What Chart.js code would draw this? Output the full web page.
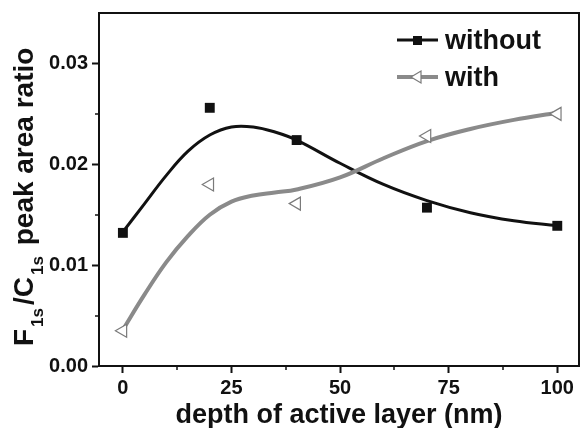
<!DOCTYPE html>
<html>
<head>
<meta charset="utf-8">
<script src="https://cdn.jsdelivr.net/npm/chart.js@4/dist/chart.umd.min.js"></script>
<style>
  body { margin: 0; background: #fff; }
  canvas { display: block; }
</style>
</head>
<body>
<canvas id="chart" width="582" height="428"></canvas>
<script>
// measured points
const depths = [0, 20, 40, 70, 100];
const withoutValues = [0.0132, 0.0256, 0.0224, 0.0157, 0.0139];
const withValues = [0.0035, 0.0180, 0.0161, 0.0228, 0.0250];

// fitted curves
const fitDepths = [0, 5, 10, 15, 20, 25, 30, 35, 40, 50, 60, 70, 80, 90, 100];
const withoutFit = [0.0133, 0.0161, 0.0189, 0.0213, 0.0229, 0.0237, 0.0237, 0.0232, 0.0224, 0.0201, 0.0180, 0.0164, 0.0152, 0.0144, 0.0139];
const withFit = [0.0036, 0.0071, 0.0103, 0.0129, 0.0150, 0.0163, 0.0169, 0.0172, 0.0175, 0.0187, 0.0206, 0.0223, 0.0235, 0.0244, 0.0251];

const xTicks = [0, 25, 50, 75, 100];
const xMinorTicks = [12.5, 37.5, 62.5, 87.5];
const yTicks = [0, 0.01, 0.02, 0.03];
const yMinorTicks = [0.005, 0.015, 0.025];

const FONT = '"Liberation Sans", Arial, sans-serif';
const BLACK = '#111111';
const GRAY = '#8a8a8a';
const TRI_GRAY = '#7a7a7a';

function toXY(xs, ys) {
    return xs.map((x, i) => ({ x: x, y: ys[i] }));
}

const decorations = {
    id: 'decorations',
    afterDraw(chart) {
        const ctx = chart.ctx;
        const area = chart.chartArea;
        const xs = chart.scales.x;
        const ys = chart.scales.y;
        ctx.save();

        // frame top/right
        ctx.strokeStyle = BLACK;
        ctx.lineWidth = 2;
        ctx.beginPath();
        ctx.moveTo(area.left, area.top);
        ctx.lineTo(area.right, area.top);
        ctx.lineTo(area.right, area.bottom);
        ctx.stroke();

        // minor ticks
        ctx.lineWidth = 1.5;
        ctx.beginPath();
        xMinorTicks.forEach(v => {
            const px = Math.round(xs.getPixelForValue(v));
            ctx.moveTo(px, area.bottom);
            ctx.lineTo(px, area.bottom + 4);
        });
        yMinorTicks.forEach(v => {
            const py = Math.round(ys.getPixelForValue(v));
            ctx.moveTo(area.left, py);
            ctx.lineTo(area.left - 4, py);
        });
        ctx.stroke();

        // x title
        ctx.fillStyle = BLACK;
        ctx.font = 'bold 27px ' + FONT;
        ctx.textAlign = 'center';
        ctx.textBaseline = 'alphabetic';
        ctx.fillText('depth of active layer (nm)', (area.left + area.right) / 2, 423);

        // y title with subscripts
        ctx.save();
        ctx.translate(33, 346);
        ctx.rotate(-Math.PI / 2);
        ctx.textAlign = 'left';
        let pos = 0;
        const parts = [
            ['F', false], ['1s', true], ['/C', false], ['1s', true], [' peak area ratio', false]
        ];
        parts.forEach(([txt, sub]) => {
            ctx.font = sub ? 'bold 17px ' + FONT : 'bold 28px ' + FONT;
            ctx.fillText(txt, pos, sub ? 10 : 0);
            pos += ctx.measureText(txt).width + (sub ? 3 : 2);
        });
        ctx.restore();

        // legend
        ctx.font = 'bold 27px ' + FONT;
        ctx.textAlign = 'left';
        ctx.strokeStyle = BLACK;
        ctx.lineWidth = 3;
        ctx.beginPath();
        ctx.moveTo(397, 40);
        ctx.lineTo(438, 40);
        ctx.stroke();
        ctx.fillStyle = BLACK;
        ctx.fillRect(413, 36, 9, 9);
        ctx.fillText('without', 445, 49);

        ctx.strokeStyle = GRAY;
        ctx.lineWidth = 4;
        ctx.beginPath();
        ctx.moveTo(397, 77);
        ctx.lineTo(438, 77);
        ctx.stroke();
        ctx.fillStyle = '#fff';
        ctx.strokeStyle = TRI_GRAY;
        ctx.lineWidth = 1.2;
        ctx.beginPath();
        ctx.moveTo(411, 77);
        ctx.lineTo(421, 71);
        ctx.lineTo(421, 83);
        ctx.closePath();
        ctx.fill();
        ctx.stroke();
        ctx.fillStyle = BLACK;
        ctx.fillText('with', 445, 86);

        ctx.restore();
    }
};

const ctx = document.getElementById('chart').getContext('2d');
new Chart(ctx, {
    type: 'scatter',
    data: {
        datasets: [
            {
                label: 'without',
                data: toXY(depths, withoutValues),
                showLine: false,
                pointStyle: 'rect',
                pointRadius: 7,
                backgroundColor: BLACK,
                borderColor: BLACK,
                borderWidth: 0,
                order: 0
            },
            {
                label: 'with',
                data: toXY(depths, withValues),
                showLine: false,
                pointStyle: 'triangle',
                pointRotation: -90,
                pointRadius: 7.5,
                backgroundColor: '#ffffff',
                borderColor: TRI_GRAY,
                borderWidth: 1.2,
                order: 0
            },
            {
                label: 'without fit',
                data: toXY(fitDepths, withoutFit),
                showLine: true,
                pointRadius: 0,
                borderColor: BLACK,
                borderWidth: 3,
                tension: 0.4,
                order: 2
            },
            {
                label: 'with fit',
                data: toXY(fitDepths, withFit),
                showLine: true,
                pointRadius: 0,
                borderColor: GRAY,
                borderWidth: 4,
                tension: 0.4,
                order: 1
            }
        ]
    },
    options: {
        responsive: false,
        animation: false,
        layout: { autoPadding: false, padding: { left: 0, right: 3, top: 13, bottom: 0 } },
        plugins: {
            legend: { display: false },
            tooltip: { enabled: false }
        },
        scales: {
            x: {
                type: 'linear',
                min: -5.5,
                max: 105,
                afterBuildTicks: scale => { scale.ticks = xTicks.map(v => ({ value: v })); },
                afterFit: scale => {
                    scale.height = 62;
                    scale.paddingLeft = 0;
                    scale.paddingRight = 0;
                },
                grid: { drawOnChartArea: false, tickLength: 7, tickWidth: 2, tickColor: BLACK },
                border: { color: BLACK, width: 2 },
                ticks: {
                    color: BLACK,
                    padding: 3,
                    maxRotation: 0,
                    font: { family: FONT, size: 20, weight: 'bold' },
                    callback: v => String(v)
                }
            },
            y: {
                min: 0,
                max: 0.035,
                afterBuildTicks: scale => { scale.ticks = yTicks.map(v => ({ value: v })); },
                afterFit: scale => {
                    scale.width = 99;
                    scale.paddingTop = 0;
                    scale.paddingBottom = 0;
                },
                grid: { drawOnChartArea: false, tickLength: 7, tickWidth: 2, tickColor: BLACK },
                border: { color: BLACK, width: 2 },
                ticks: {
                    color: BLACK,
                    padding: 4,
                    font: { family: FONT, size: 20, weight: 'bold' },
                    callback: v => v.toFixed(2)
                }
            }
        }
    },
    plugins: [decorations]
});
</script>
</body>
</html>
